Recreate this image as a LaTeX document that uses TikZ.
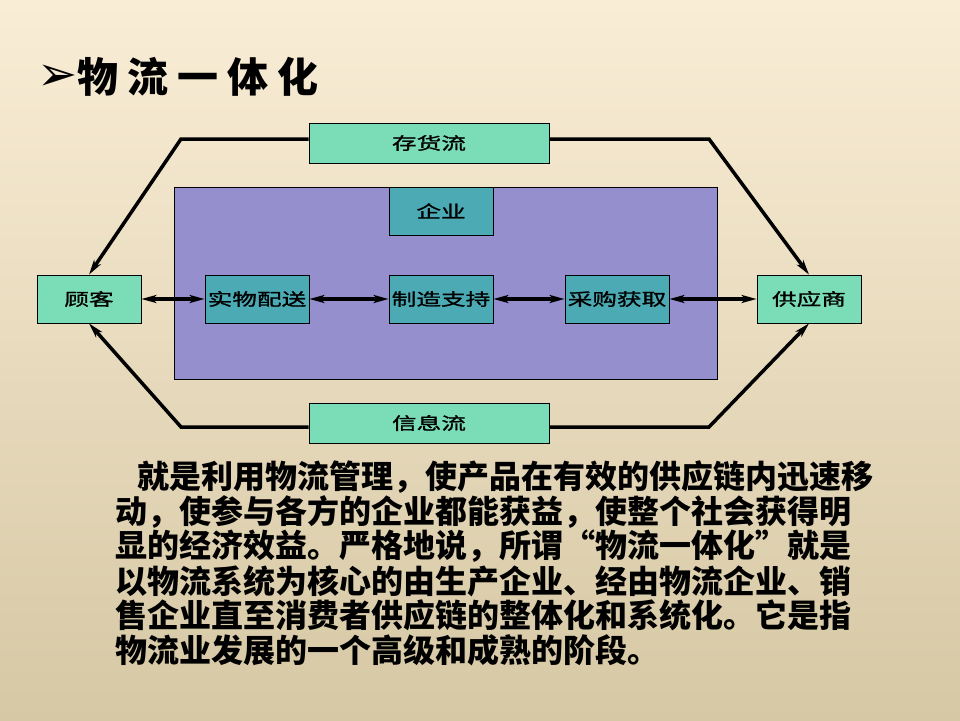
\documentclass[tikz,border=0pt]{standalone}
\usepackage{fontspec}
\newfontfamily\cjk{Noto Sans CJK SC}
\newfontfamily\boxfont[FakeStretch=1.45,FakeBold=1.2]{Noto Sans CJK SC}
\newfontfamily\titlefont[LetterSpace=22]{Noto Sans CJK SC}
\newfontfamily\symfont{DejaVu Sans}
\usetikzlibrary{arrows.meta,positioning}
\definecolor{slideTop}{HTML}{F9EDD6}
\definecolor{slideMid}{HTML}{F4E8CF}
\definecolor{slideBottom}{HTML}{D6C8A4}
\definecolor{flowMint}{HTML}{7BDDB8}
\definecolor{firmTeal}{HTML}{4BAAB4}
\definecolor{firmPurple}{HTML}{958FCE}

\begin{document}
\begin{tikzpicture}[x=1pt,y=-1pt,
  flowbox/.style={draw,line width=0.8pt,fill=flowMint,minimum width=240,minimum height=40,inner sep=0pt,font=\boxfont\fontsize{17}{19}\selectfont},
  partybox/.style={draw,line width=0.8pt,fill=flowMint,minimum width=104,minimum height=48,inner sep=0pt,font=\boxfont\fontsize{17}{19}\selectfont},
  stagebox/.style={partybox,fill=firmTeal},
  descline/.style={anchor=west,inner sep=0pt,font=\cjk\bfseries\fontsize{32}{34}\selectfont},
  flowline/.style={-{Stealth[length=15pt,width=8pt,inset=4pt]},line width=3.5pt,line join=miter},
  linkarrow/.style={{Stealth[length=15pt,width=8pt,inset=4pt]}-{Stealth[length=15pt,width=8pt,inset=4pt]},line width=3.5pt}]
  % slide background
  \shade[top color=slideTop,middle color=slideMid,bottom color=slideBottom] (0,0) rectangle (960,720);
  \useasboundingbox (0,0) rectangle (960,720);
  % title
  \node[font=\symfont\fontsize{48}{50}\selectfont,inner sep=0pt] (bullet) at (58,78) {➢};
  \node[anchor=west,inner sep=0pt,font=\titlefont\bfseries\fontsize{41}{44}\selectfont] (title) at (77,77) {物流一体化};
  % enterprise block
  \node[draw,line width=0.8pt,fill=firmPurple,minimum width=543,minimum height=192,inner sep=0pt] (firm) at (445.5,283) {};
  \node[partybox] (cust) at (89,299) {顾客};
  \node[stagebox] (dist) at (257,299) {实物配送};
  \node[stagebox] (make) at (441,299) {制造支持};
  \node[stagebox] (buy) at (617,299) {采购获取};
  \node[partybox] (supp) at (809,299) {供应商};
  \node[stagebox,anchor=north] (firmlabel) at (make |- firm.north) {企业};
  \node[flowbox] (stock) at (429,143) {存货流};
  \node[flowbox] (info) at (429,423) {信息流};
  % corners of the outer flows
  \coordinate (stockL) at (181,139);
  \coordinate (stockR) at (709,139);
  \coordinate (infoL) at (181,427);
  \coordinate (infoR) at (709,427);
  \draw[flowline] ([yshift=4pt]stock.west) -- (stockL) -- (cust.north);
  \draw[flowline] ([yshift=4pt]stock.east) -- (stockR) -- (supp.north);
  \draw[flowline] ([yshift=-4pt]info.west) -- (infoL) -- (cust.south);
  \draw[flowline] ([yshift=-4pt]info.east) -- (infoR) -- (supp.south);
  \draw[linkarrow] (cust) -- (dist);
  \draw[linkarrow] (dist) -- (make);
  \draw[linkarrow] (make) -- (buy);
  \draw[linkarrow] (buy) -- (supp);
  % text below the chart
  \node[descline] (desc1) at (137,477) {就是利用物流管理，使产品在有效的供应链内迅速移};
  \node[descline] (desc2) at (115,512) {动，使参与各方的企业都能获益，使整个社会获得明};
  \node[descline] (desc3) at (115,546) {显的经济效益。严格地说，所谓“物流一体化”就是};
  \node[descline] (desc4) at (115,581) {以物流系统为核心的由生产企业、经由物流企业、销};
  \node[descline] (desc5) at (115,615) {售企业直至消费者供应链的整体化和系统化。它是指};
  \node[descline] (desc6) at (115,650) {物流业发展的一个高级和成熟的阶段。};
\end{tikzpicture}
\end{document}
